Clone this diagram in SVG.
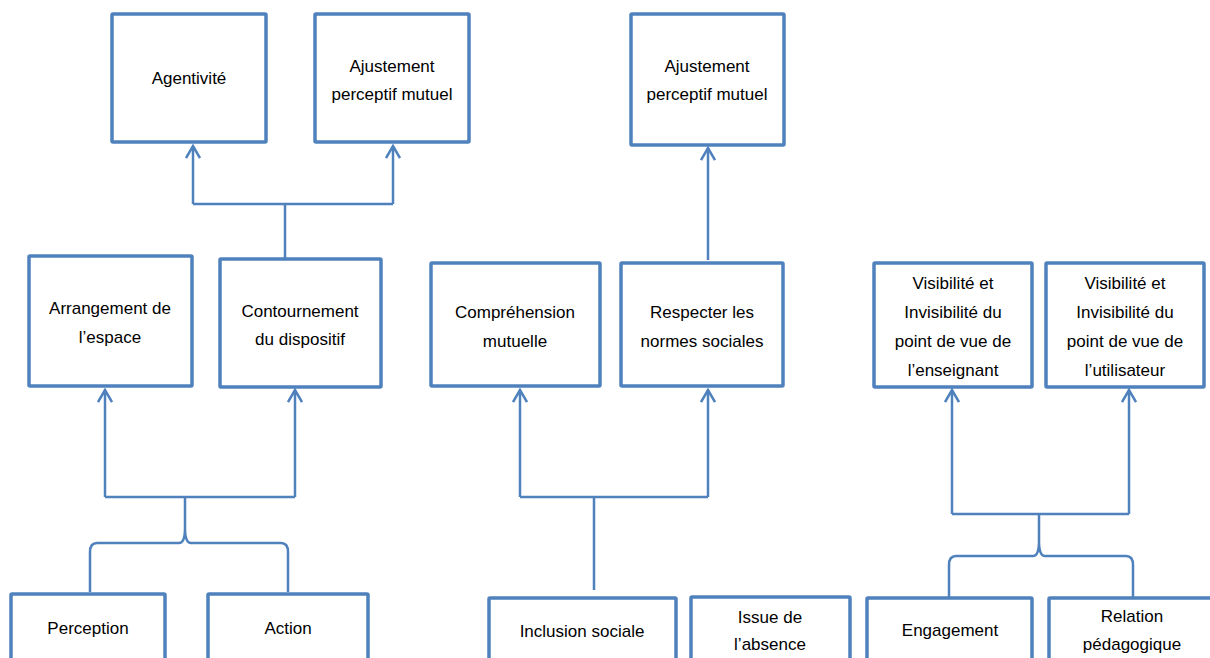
<svg xmlns="http://www.w3.org/2000/svg" width="1210" height="658" viewBox="0 0 1210 658">
<defs>
<style>
.box{fill:#fff;stroke:#4F81BD;stroke-width:3.5;}
.c{fill:none;stroke:#4F81BD;stroke-width:2.5;}
.a{fill:none;stroke:#4F81BD;stroke-width:2.5;marker-end:url(#arr);}
text{font-family:"Liberation Sans",Arial,sans-serif;font-size:17px;fill:#000;text-anchor:middle;}
</style>
<marker id="arr" markerUnits="userSpaceOnUse" viewBox="0 0 16 16" refX="14" refY="8" markerWidth="16" markerHeight="16" orient="auto">
<path d="M2,1 L14,8 L2,15" fill="none" stroke="#4F81BD" stroke-width="2.5"/>
</marker>
</defs>
<rect width="1210" height="658" fill="#fff"/>

<g id="connectors">
<path class="a" d="M193,204 V146"/>
<path class="a" d="M393,204 V146"/>
<path class="c" d="M193,204 H393 M285,204 V258"/>
<path class="a" d="M105,497 V390"/>
<path class="a" d="M295,497 V390"/>
<path class="c" d="M105,497 H295"/>
<path class="c" d="M185,497 V528 Q185,543 179,543 H97 Q90,543 90,552 V592 M185,528 Q185,543 191,543 H281 Q288,543 288,552 V592"/>
<path class="a" d="M708,260 V148"/>
<path class="a" d="M520,497 V390"/>
<path class="a" d="M708,497 V390"/>
<path class="c" d="M520,497 H708 M594,497 V590"/>
<path class="a" d="M952,514 V390"/>
<path class="a" d="M1129,514 V390"/>
<path class="c" d="M952,514 H1129"/>
<path class="c" d="M1039,514 V541 Q1039,556 1033,556 H956 Q949,556 949,565 V597 M1039,541 Q1039,556 1045,556 H1126 Q1133,556 1133,565 V597"/>
</g>

<g id="n-agentivite"><rect class="box" x="112" y="14" width="154" height="128" rx="1"/><text x="189" y="84">Agentivité</text></g>
<g id="n-ajustement1"><rect class="box" x="315" y="14" width="154" height="128" rx="1"/><text x="392" y="72">Ajustement</text><text x="392" y="100">perceptif mutuel</text></g>
<g id="n-ajustement2"><rect class="box" x="631" y="14" width="153" height="131" rx="1"/><text x="707" y="72">Ajustement</text><text x="707" y="100">perceptif mutuel</text></g>

<g id="n-arrangement"><rect class="box" x="29" y="256" width="163" height="130" rx="1"/><text x="110" y="314">Arrangement de</text><text x="110" y="343">l’espace</text></g>
<g id="n-contournement"><rect class="box" x="220" y="259" width="161" height="128" rx="1"/><text x="300" y="317">Contournement</text><text x="300" y="345">du dispositif</text></g>
<g id="n-comprehension"><rect class="box" x="431" y="263" width="169" height="123" rx="1"/><text x="515" y="318">Compréhension</text><text x="515" y="347">mutuelle</text></g>
<g id="n-respecter"><rect class="box" x="621" y="263" width="162" height="123" rx="1"/><text x="702" y="318">Respecter les</text><text x="702" y="347">normes sociales</text></g>
<g id="n-vis-enseignant"><rect class="box" x="874" y="263" width="158" height="124" rx="1"/><text x="953" y="289">Visibilité et</text><text x="953" y="318">Invisibilité du</text><text x="953" y="347">point de vue de</text><text x="953" y="376">l’enseignant</text></g>
<g id="n-vis-utilisateur"><rect class="box" x="1046" y="263" width="158" height="124" rx="1"/><text x="1125" y="289">Visibilité et</text><text x="1125" y="318">Invisibilité du</text><text x="1125" y="347">point de vue de</text><text x="1125" y="376">l’utilisateur</text></g>

<g id="n-perception"><rect class="box" x="11" y="594" width="154" height="100" rx="1"/><text x="88" y="634">Perception</text></g>
<g id="n-action"><rect class="box" x="208" y="594" width="160" height="100" rx="1"/><text x="288" y="634">Action</text></g>
<g id="n-inclusion"><rect class="box" x="489" y="598" width="187" height="100" rx="1"/><text x="582" y="637">Inclusion sociale</text></g>
<g id="n-issue"><rect class="box" x="691" y="597" width="159" height="100" rx="1"/><text x="770" y="623">Issue de</text><text x="770" y="650">l’absence</text></g>
<g id="n-engagement"><rect class="box" x="867" y="598" width="165" height="100" rx="1"/><text x="950" y="636">Engagement</text></g>
<g id="n-relation"><rect class="box" x="1049" y="598" width="167" height="100" rx="1"/><text x="1132" y="622">Relation</text><text x="1132" y="650">pédagogique</text></g>
</svg>
